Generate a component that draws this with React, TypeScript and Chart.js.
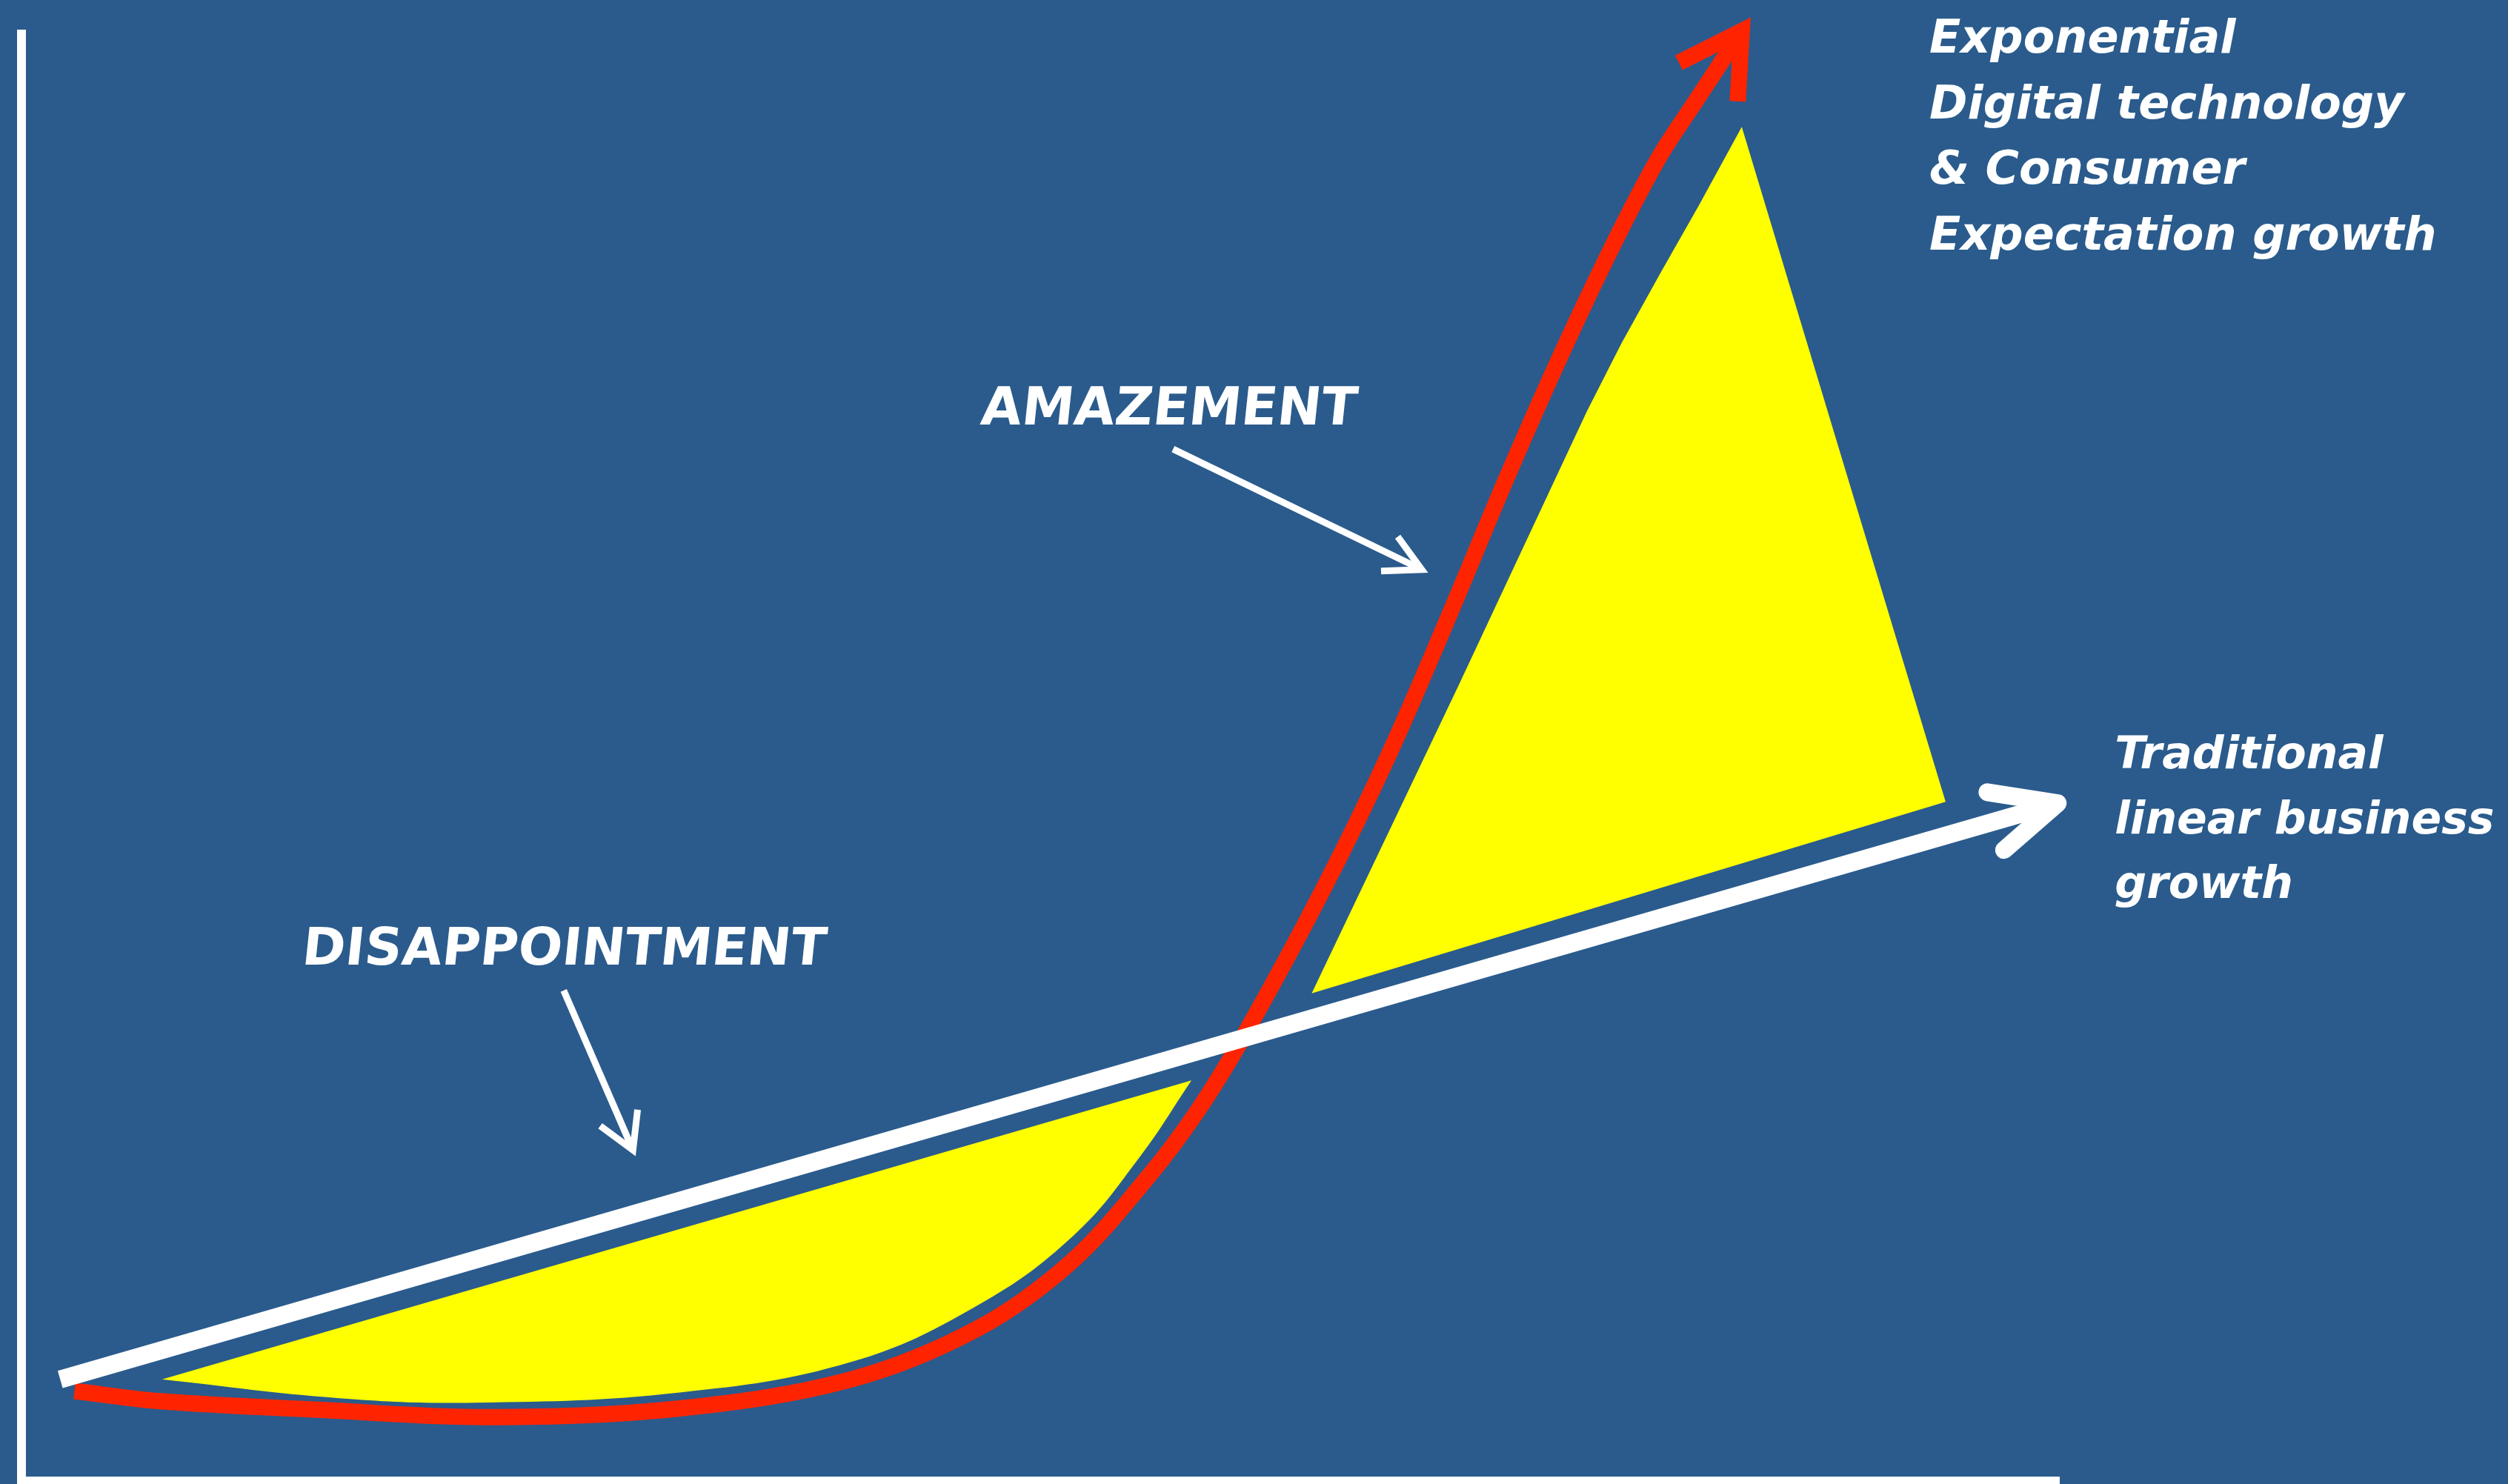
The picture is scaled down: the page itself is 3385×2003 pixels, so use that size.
import React, { useEffect, useRef } from "react";
import { Chart, registerables } from "chart.js";

Chart.register(...registerables);

const W = 3385;
const H = 2003;
const BG = "#2A5B8C";
const WHITE = "#FFFFFF";
const RED = "#FF2400";
const YELLOW = "#FFFF00";

// ---- data (arbitrary units: time 0-100, growth 0-100) ----
const axisX = [0, 0, 100];
const axisY = [100, 0, 0];

const linearX = [1.9, 99.9];
const linearY = [7.0, 46.7];

const expX = [2.6, 6.8, 14.7, 22.9, 32.3, 40.7, 46.9, 51.5, 55.3, 57.7, 60.1, 63.8, 67.1, 70.0, 72.8, 75.5, 78.1, 80.3, 82.2, 84.4];
const expY = [6.2, 5.5, 4.9, 4.4, 5.0, 7.0, 10.5, 15.1, 21.0, 25.5, 31.0, 40.6, 50.1, 59.5, 68.9, 77.5, 85.2, 91.1, 95.2, 99.9];

const gapLowTopX = [6.9, 57.4];
const gapLowTopY = [7.0, 27.6];
const gapLowBottomX = [6.9, 15.6, 22.3, 32.3, 40.7, 46.9, 51.6, 54.9, 57.4];
const gapLowBottomY = [7.0, 5.7, 5.4, 6.1, 8.2, 12.1, 16.9, 22.4, 27.6];

const gapHighX = [63.3, 70.5, 76.8, 78.5, 80.4, 82.3, 84.4, 94.4];
const gapHighY = [33.6, 54.8, 73.7, 78.4, 83.2, 87.9, 93.3, 46.8];

const amazeArrowX = [56.5, 68.7];
const amazeArrowY = [71.1, 62.8];
const disArrowX = [26.6, 30.0];
const disArrowY = [33.8, 22.8];

const expLabel = ["Exponential", "Digital technology", "& Consumer", "Expectation growth"];
const linLabel = ["Traditional", "linear business", "growth"];
const amazeLabel = ["AMAZEMENT"];
const disLabel = ["DISAPPOINTMENT"];

// label anchors in data units (left edge, first baseline)
const LABELS = [
  { lines: expLabel, x: 93.6, y: 98.4, font: 'italic bold 62px "DejaVu Sans"', lh: 88.5, skew: 0 },
  { lines: linLabel, x: 102.7, y: 49.1, font: 'italic bold 60px "DejaVu Sans"', lh: 87.5, skew: 0 },
  { lines: amazeLabel, x: 47.0, y: 72.8, font: 'bold 71px "DejaVu Sans"', lh: 80, skew: 6 },
  { lines: disLabel, x: 13.7, y: 35.6, font: 'bold 70px "DejaVu Sans"', lh: 80, skew: 6 },
];

const pts = (xs: number[], ys: number[]) => xs.map((x, i) => ({ x, y: ys[i] }));

const ARROWS = [
  { label: "linear", len: 96, angle: 25, width: 24, color: WHITE, join: "round" as CanvasLineJoin },
  { label: "exponential", len: 95, angle: 30, width: 22, color: RED, join: "miter" as CanvasLineJoin },
  { label: "amazeArrow", len: 55, angle: 28, width: 9, color: WHITE, join: "miter" as CanvasLineJoin },
  { label: "disArrow", len: 55, angle: 30, width: 9, color: WHITE, join: "miter" as CanvasLineJoin },
];

const arrowPlugin = {
  id: "arrowHeads",
  afterDatasetsDraw(chart: any) {
    const ctx = chart.ctx as CanvasRenderingContext2D;
    chart.data.datasets.forEach((ds: any, i: number) => {
      const a = ARROWS.find((r) => r.label === ds.label);
      if (!a) return;
      const els = chart.getDatasetMeta(i).data;
      const tip = els[els.length - 1];
      const prev = els[els.length - 2];
      const back = Math.atan2(prev.y - tip.y, prev.x - tip.x);
      const r = (a.angle * Math.PI) / 180;
      ctx.save();
      ctx.strokeStyle = a.color;
      ctx.lineWidth = a.width;
      ctx.lineJoin = a.join;
      ctx.lineCap = a.join === "round" ? "round" : "butt";
      ctx.beginPath();
      ctx.moveTo(tip.x + a.len * Math.cos(back + r), tip.y + a.len * Math.sin(back + r));
      ctx.lineTo(tip.x, tip.y);
      ctx.lineTo(tip.x + a.len * Math.cos(back - r), tip.y + a.len * Math.sin(back - r));
      ctx.stroke();
      ctx.restore();
    });
  },
};

const labelPlugin = {
  id: "labels",
  afterDraw(chart: any) {
    const ctx = chart.ctx as CanvasRenderingContext2D;
    const xs = chart.scales.x;
    const ys = chart.scales.y;
    LABELS.forEach((l) => {
      const px = xs.getPixelForValue(l.x);
      const py = ys.getPixelForValue(l.y);
      ctx.save();
      ctx.font = l.font;
      ctx.fillStyle = WHITE;
      ctx.textAlign = "left";
      ctx.textBaseline = "alphabetic";
      l.lines.forEach((t, k) => {
        ctx.save();
        ctx.translate(px, py + k * l.lh);
        if (l.skew) ctx.transform(1, 0, -Math.tan((l.skew * Math.PI) / 180), 1, 0, 0);
        ctx.fillText(t, 0, 0);
        ctx.restore();
      });
      ctx.restore();
    });
  },
};

export default function App() {
  const ref = useRef<HTMLCanvasElement | null>(null);

  useEffect(() => {
    document.body.style.margin = "0";
    document.body.style.background = BG;
    const canvas = ref.current;
    if (!canvas) return;
    const common = { showLine: true, pointRadius: 0, pointHoverRadius: 0, clip: false as any };
    const chart = new Chart(canvas, {
      type: "scatter",
      data: {
        datasets: [
          {
            ...common,
            label: "linear",
            data: pts(linearX, linearY),
            borderColor: WHITE,
            borderWidth: 24,
            borderCapStyle: "butt",
            tension: 0,
            fill: false,
            order: 1,
          },
          {
            ...common,
            label: "exponential",
            data: pts(expX, expY),
            borderColor: RED,
            borderWidth: 22,
            borderCapStyle: "butt",
            tension: 0.35,
            fill: false,
            order: 2,
          },
          {
            ...common,
            label: "axes",
            data: pts(axisX, axisY),
            borderColor: WHITE,
            borderWidth: 12,
            borderJoinStyle: "miter",
            tension: 0,
            fill: false,
            order: 3,
          },
          {
            ...common,
            label: "amazeArrow",
            data: pts(amazeArrowX, amazeArrowY),
            borderColor: WHITE,
            borderWidth: 9,
            tension: 0,
            fill: false,
            order: 3,
          },
          {
            ...common,
            label: "disArrow",
            data: pts(disArrowX, disArrowY),
            borderColor: WHITE,
            borderWidth: 9,
            tension: 0,
            fill: false,
            order: 3,
          },
          {
            ...common,
            label: "disappointmentGapTop",
            data: pts(gapLowTopX, gapLowTopY),
            borderColor: "rgba(0,0,0,0)",
            borderWidth: 0,
            backgroundColor: YELLOW,
            tension: 0,
            fill: "+1",
            order: 5,
          },
          {
            ...common,
            label: "disappointmentGapBottom",
            data: pts(gapLowBottomX, gapLowBottomY),
            borderColor: "rgba(0,0,0,0)",
            borderWidth: 0,
            tension: 0.4,
            fill: false,
            order: 6,
          },
          {
            ...common,
            label: "amazementGap",
            data: pts(gapHighX, gapHighY),
            borderColor: "rgba(0,0,0,0)",
            borderWidth: 0,
            backgroundColor: YELLOW,
            tension: 0,
            fill: "shape",
            order: 7,
          },
        ],
      },
      options: {
        animation: false,
        responsive: false,
        maintainAspectRatio: false,
        devicePixelRatio: 1,
        events: [],
        layout: { padding: { left: 29, right: 605, top: 40, bottom: 4 } },
        scales: {
          x: { type: "linear", min: 0, max: 100, display: false },
          y: { type: "linear", min: 0, max: 100, display: false },
        },
        plugins: {
          legend: { display: false },
          tooltip: { enabled: false },
          filler: { propagate: false },
        },
      } as any,
      plugins: [arrowPlugin, labelPlugin],
    });
    return () => chart.destroy();
  }, []);

  return (
    <div style={{ position: "fixed", left: 0, top: 0, width: W, height: H, background: BG, overflow: "hidden" }}>
      <canvas ref={ref} width={W} height={H} style={{ display: "block", width: W, height: H }} />
    </div>
  );
}
